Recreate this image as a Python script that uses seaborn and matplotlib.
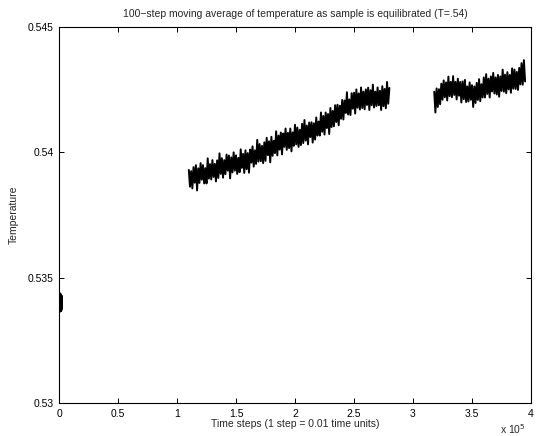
import numpy as np
import pandas as pd
import matplotlib
matplotlib.use("Agg")
import matplotlib.pyplot as plt
import seaborn as sns
from matplotlib.ticker import FuncFormatter

sns.set_style("ticks")
plt.rcParams['font.family'] = ['Liberation Sans', 'DejaVu Sans']

# ---- data ----
title = "100\u2212step moving average of temperature as sample is equilibrated (T=.54)"
xlabel = "Time steps (1 step = 0.01 time units)"
ylabel = "Temperature"
xticks = [0, 50000, 100000, 150000, 200000, 250000, 300000, 350000, 400000]
yticks = [0.53, 0.535, 0.54, 0.545]

seg1_x = np.arange(0, 2600, 100)
seg1_y = [0.53420, 0.53385, 0.53432, 0.53378, 0.53415, 0.53370, 0.53428, 0.53392,
          0.53438, 0.53381, 0.53410, 0.53365, 0.53425, 0.53388, 0.53435, 0.53374,
          0.53418, 0.53391, 0.53430, 0.53368, 0.53422, 0.53383, 0.53412, 0.53376,
          0.53427, 0.53395]

seg2_x = np.arange(110000, 281000, 1000)
seg2_y = [0.53930, 0.53863, 0.53925, 0.53856, 0.53941, 0.53879, 0.53949, 0.53848, 0.53936, 0.53878,
          0.53957, 0.53891, 0.53949, 0.53876, 0.53937, 0.53876, 0.53976, 0.53895, 0.53953, 0.53892,
          0.53969, 0.53902, 0.53954, 0.53884, 0.53968, 0.53898, 0.53996, 0.53914, 0.53977, 0.53899,
          0.53969, 0.53913, 0.53991, 0.53927, 0.53987, 0.53896, 0.53980, 0.53920, 0.54000, 0.53927,
          0.53988, 0.53914, 0.53978, 0.53921, 0.54012, 0.53938, 0.53994, 0.53918, 0.54008, 0.53933,
          0.53997, 0.53919, 0.54011, 0.53959, 0.54024, 0.53943, 0.54008, 0.53954, 0.54050, 0.53963,
          0.54033, 0.53965, 0.54026, 0.53957, 0.54040, 0.53966, 0.54058, 0.53989, 0.54044, 0.53960,
          0.54062, 0.53986, 0.54046, 0.53997, 0.54084, 0.53988, 0.54067, 0.54011, 0.54079, 0.53992,
          0.54075, 0.54022, 0.54095, 0.54010, 0.54078, 0.54017, 0.54095, 0.54004, 0.54080, 0.54026,
          0.54110, 0.54032, 0.54099, 0.54022, 0.54090, 0.54029, 0.54114, 0.54037, 0.54129, 0.54047,
          0.54107, 0.54032, 0.54119, 0.54061, 0.54120, 0.54039, 0.54116, 0.54051, 0.54139, 0.54067,
          0.54123, 0.54067, 0.54159, 0.54082, 0.54145, 0.54071, 0.54159, 0.54097, 0.54153, 0.54073,
          0.54177, 0.54101, 0.54165, 0.54104, 0.54188, 0.54121, 0.54190, 0.54108, 0.54186, 0.54134,
          0.54209, 0.54131, 0.54207, 0.54157, 0.54240, 0.54151, 0.54211, 0.54149, 0.54236, 0.54174,
          0.54238, 0.54155, 0.54251, 0.54178, 0.54235, 0.54171, 0.54259, 0.54177, 0.54242, 0.54172,
          0.54251, 0.54189, 0.54258, 0.54169, 0.54248, 0.54188, 0.54270, 0.54179, 0.54242, 0.54185,
          0.54259, 0.54188, 0.54246, 0.54169, 0.54264, 0.54184, 0.54253, 0.54176, 0.54281, 0.54194,
          0.54257]

seg3_x = np.arange(318000, 396000, 1000)
seg3_y = [0.54242, 0.54159, 0.54255, 0.54181, 0.54252, 0.54192, 0.54274, 0.54210, 0.54287, 0.54220,
          0.54279, 0.54207, 0.54302, 0.54224, 0.54281, 0.54220, 0.54304, 0.54229, 0.54281, 0.54211,
          0.54294, 0.54226, 0.54281, 0.54199, 0.54283, 0.54212, 0.54289, 0.54201, 0.54263, 0.54203,
          0.54279, 0.54210, 0.54268, 0.54181, 0.54263, 0.54197, 0.54277, 0.54209, 0.54292, 0.54204,
          0.54272, 0.54219, 0.54299, 0.54219, 0.54312, 0.54233, 0.54294, 0.54219, 0.54303, 0.54243,
          0.54317, 0.54235, 0.54299, 0.54231, 0.54309, 0.54222, 0.54303, 0.54245, 0.54330, 0.54242,
          0.54310, 0.54236, 0.54320, 0.54251, 0.54309, 0.54238, 0.54335, 0.54254, 0.54330, 0.54253,
          0.54321, 0.54249, 0.54337, 0.54271, 0.54356, 0.54270, 0.54368, 0.54283]

df = pd.concat([
    pd.DataFrame({"step": seg1_x, "temp": seg1_y, "seg": 1}),
    pd.DataFrame({"step": seg2_x, "temp": seg2_y, "seg": 2}),
    pd.DataFrame({"step": seg3_x, "temp": seg3_y, "seg": 3}),
], ignore_index=True)

fig = plt.figure(figsize=(5.4, 4.36), dpi=100)
ax = fig.add_axes([0.1093, 0.0757, 0.8740, 0.8623])
sns.lineplot(data=df, x="step", y="temp", units="seg", estimator=None, sort=False,
             color="black", linewidth=1.4, ax=ax)

ax.set_xlim(0, 400000)
ax.set_ylim(0.53, 0.545)
ax.set_xticks(xticks)
ax.set_yticks(yticks)
ax.xaxis.set_major_formatter(FuncFormatter(lambda v, p: f"{v/1e5:g}"))
ax.yaxis.set_major_formatter(FuncFormatter(lambda v, p: f"{v:g}"))
ax.tick_params(direction="in", length=3.5, width=0.7, labelsize=7.5, top=True, right=True,
               colors="black", pad=4)
for s in ax.spines.values():
    s.set_visible(True)
    s.set_linewidth(0.8)
    s.set_color("black")

ax.set_title(title, fontsize=7.5, pad=7.5)
ax.set_xlabel(xlabel, fontsize=7.5, labelpad=0)
ax.set_ylabel(ylabel, fontsize=7.5, labelpad=6)
fig.text(0.926, 0.004, r"x 10$^5$", fontsize=7.5)

fig.savefig("out.png", dpi=100)
